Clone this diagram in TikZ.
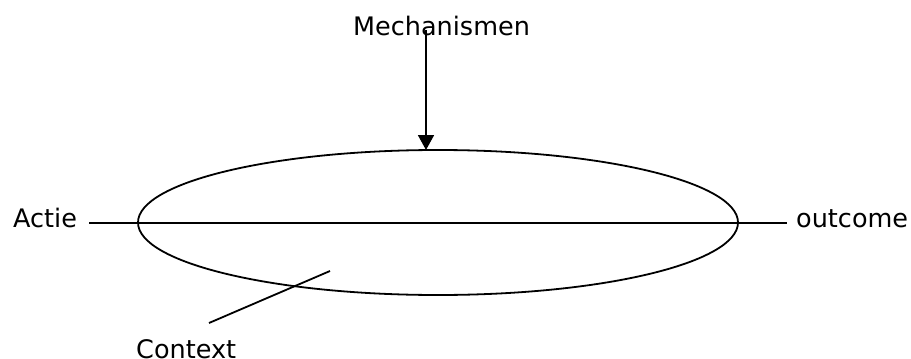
\documentclass[tikz,border=0pt]{standalone}
\usepackage{fontspec}
\setmainfont{DejaVu Sans}
\usetikzlibrary{shapes.geometric,arrows.meta}
\begin{document}
\begin{tikzpicture}[x=1pt,y=-1pt,
  lbl/.style={inner sep=0pt,anchor=base west,font=\fontsize{25.5}{30}\selectfont},
  ln/.style={line width=1.8pt,draw=black},
  tip/.style={-{Triangle[width=16pt,length=15pt]}}]
\useasboundingbox (0,0) rectangle (911,359);
\node[ln,ellipse,minimum width=600pt,minimum height=145pt,inner sep=0pt] (ell) at (438,222.5) {};
\node[lbl] (mech) at (353,35) {Mechanismen};
\node[lbl] (actie) at (13,227) {Actie};
\node[lbl] (outc) at (796,227) {outcome};
\node[lbl] (ctx) at (136,358) {Context};
\coordinate (mtop) at (426,30);
\coordinate (mbot) at (426,150);
\coordinate (ls) at (89,223);
\coordinate (le) at (787,223);
\coordinate (cs) at (209,323);
\coordinate (ce) at (330,271);
\draw[ln,tip] (mtop) -- (mbot);
\draw[ln] (ls) -- (le);
\draw[ln] (cs) -- (ce);
\end{tikzpicture}
\end{document}
